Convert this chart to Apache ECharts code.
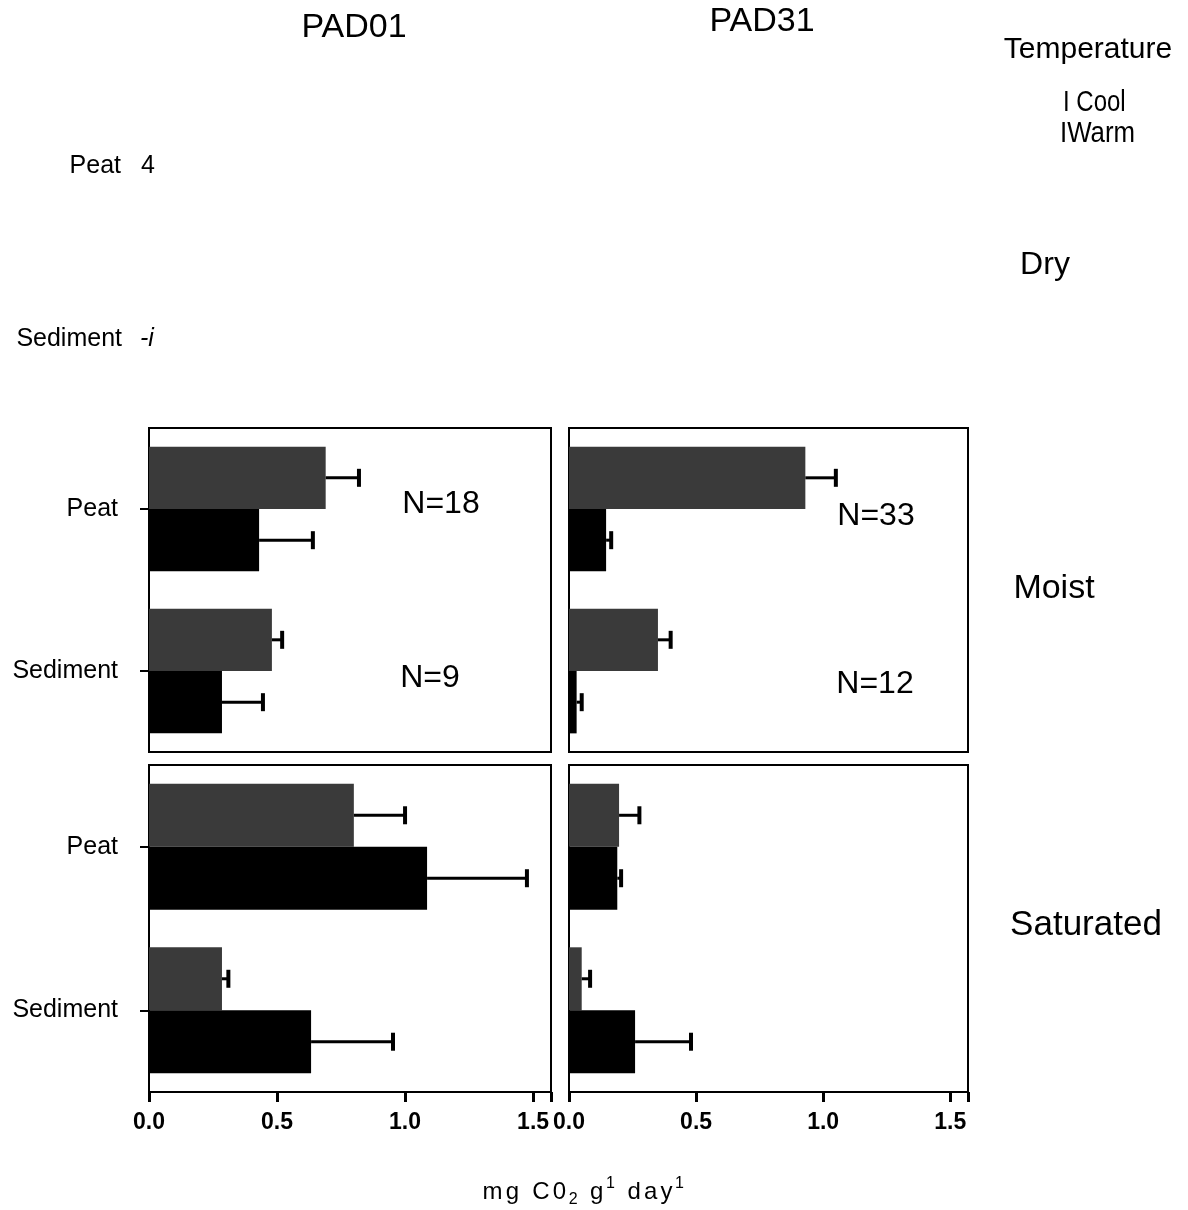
<!DOCTYPE html>
<html><head><meta charset="utf-8">
<script src="https://cdn.jsdelivr.net/npm/echarts@6/dist/echarts.min.js"></script>
<style>html,body{margin:0;padding:0;background:#fff}#c{width:1188px;height:1210px}</style>
</head><body><div id="c"></div>
<script>
// ---- data ----
const categories = ['Peat', 'Sediment'];
const sites = ['PAD01', 'PAD31'];
const moistureLabels = ['Dry', 'Moist', 'Saturated'];
const temperatures = ['Cool', 'Warm'];
const tickValues = [0, 0.5, 1.0, 1.5];
const nLabelsPAD01 = ['N=18', 'N=9'];
const nLabelsPAD31 = ['N=33', 'N=12'];
const axisTitleParts = [['mg C0', 'n'], ['2', 'sub'], [' g', 'n'], ['1', 'sup'], [' day', 'n'], ['1', 'sup']];

// means [Peat, Sediment]
const pad01MoistCool = [0.69, 0.48];
const pad01MoistWarm = [0.43, 0.285];
const pad31MoistCool = [0.93, 0.35];
const pad31MoistWarm = [0.146, 0.03];
const pad01SatCool = [0.80, 0.285];
const pad01SatWarm = [1.086, 0.633];
const pad31SatCool = [0.197, 0.05];
const pad31SatWarm = [0.19, 0.26];
// standard errors [Peat, Sediment]
const pad01MoistCoolErr = [0.13, 0.04];
const pad01MoistWarmErr = [0.21, 0.16];
const pad31MoistCoolErr = [0.12, 0.05];
const pad31MoistWarmErr = [0.02, 0.02];
const pad01SatCoolErr = [0.20, 0.025];
const pad01SatWarmErr = [0.39, 0.32];
const pad31SatCoolErr = [0.08, 0.033];
const pad31SatWarmErr = [0.015, 0.22];

const FONT = 'Liberation Sans, Arial, Helvetica, sans-serif';
const COOL_COLOR = '#3a3a3a';
const WARM_COLOR = '#000000';
const GAP = 0.23;

const panels = [
  {cool: pad01MoistCool, warm: pad01MoistWarm, coolErr: pad01MoistCoolErr, warmErr: pad01MoistWarmErr, left: 149, top: 428, width: 402, height: 324, yLabels: true, xLabels: false},
  {cool: pad31MoistCool, warm: pad31MoistWarm, coolErr: pad31MoistCoolErr, warmErr: pad31MoistWarmErr, left: 569, top: 428, width: 399, height: 324, yLabels: false, xLabels: false},
  {cool: pad01SatCool, warm: pad01SatWarm, coolErr: pad01SatCoolErr, warmErr: pad01SatWarmErr, left: 149, top: 765, width: 402, height: 327, yLabels: true, xLabels: true},
  {cool: pad31SatCool, warm: pad31SatWarm, coolErr: pad31SatCoolErr, warmErr: pad31SatWarmErr, left: 569, top: 765, width: 399, height: 327, yLabels: false, xLabels: true}
];

const grid = [], xAxis = [], yAxis = [], series = [];
panels.forEach((p, i) => {
  grid.push({left: p.left, top: p.top, width: p.width, height: p.height, show: true,
    borderColor: '#000', borderWidth: 2, backgroundColor: '#fff', containLabel: false});
  xAxis.push({type: 'value', gridIndex: i, min: 0, max: 1.57, interval: 0.5,
    splitLine: {show: false},
    axisLine: {show: true, lineStyle: {color: '#000', width: 2}},
    axisTick: {show: p.xLabels, length: 10, lineStyle: {color: '#000', width: 3}},
    axisLabel: {show: p.xLabels, margin: 19, color: '#000', fontSize: 23, fontWeight: 'bold', fontFamily: FONT,
      formatter: v => {
        const k = tickValues.findIndex(t => Math.abs(t - v) < 1e-6);
        return k >= 0 ? tickValues[k].toFixed(1) : '';
      }}
  });
  yAxis.push({type: 'category', gridIndex: i, data: categories, inverse: true,
    axisLine: {show: true, lineStyle: {color: '#000', width: 2}},
    axisTick: {show: p.yLabels, alignWithLabel: true, length: 9, lineStyle: {color: '#000', width: 2}},
    axisLabel: {show: p.yLabels, margin: 31, color: '#000', fontSize: 25, fontFamily: FONT}
  });
  [[p.cool, COOL_COLOR, 'Cool'], [p.warm, WARM_COLOR, 'Warm']].forEach(([vals, col, name]) => {
    series.push({type: 'bar', name, xAxisIndex: i, yAxisIndex: i, data: vals,
      barGap: '0%', barCategoryGap: (GAP * 100) + '%', itemStyle: {color: col}, silent: true});
  });
  [[p.cool, p.coolErr, -1], [p.warm, p.warmErr, 1]].forEach(([vals, errs, sgn]) => {
    series.push({type: 'custom', xAxisIndex: i, yAxisIndex: i, z: 5, silent: true,
      encode: {x: 1, y: 0},
      data: vals.map((v, k) => [k, v, errs[k]]),
      renderItem: (params, api) => {
        const c = api.value(0), m = api.value(1), e = api.value(2);
        const p0 = api.coord([m, c]);
        const p1 = api.coord([m + e, c]);
        const band = api.size([0, 1])[1];
        const bw = band * (1 - GAP) / 2;
        const yy = p0[1] + sgn * bw / 2;
        return {type: 'group', children: [
          {type: 'line', shape: {x1: p0[0], y1: yy, x2: p1[0], y2: yy}, style: {stroke: '#000', lineWidth: 3}},
          {type: 'line', shape: {x1: p1[0], y1: yy - 9, x2: p1[0], y2: yy + 9}, style: {stroke: '#000', lineWidth: 4}}
        ]};
      }
    });
  });
});

function txt(x, y, text, size, extra, props) {
  return Object.assign({type: 'text', x, y, style: Object.assign({text, fontSize: size, fontFamily: FONT, fill: '#000',
    textAlign: 'center', textVerticalAlign: 'middle'}, extra || {})}, props || {});
}

// axis title as rich text, one fragment per character for the wide letter spacing
let titleRich = '';
axisTitleParts.forEach(([s, kind]) => {
  for (const ch of s) titleRich += '{' + kind + '|' + (ch === ' ' ? '\u00a0' : ch) + '}';
});

const graphic = [
  txt(354, 28, sites[0], 34),
  txt(762, 22, sites[1], 34),
  txt(1088, 50, 'Temperature', 30),
  txt(1063, 103, 'I ' + temperatures[0], 30, {textAlign: 'left'}, {scaleX: 0.8}),
  txt(1060, 134, 'I' + temperatures[1], 30, {textAlign: 'left'}, {scaleX: 0.86}),
  txt(121, 166, categories[0], 25, {textAlign: 'right'}),
  txt(141, 166, '4', 25, {textAlign: 'left'}),
  txt(122, 339, categories[1], 25, {textAlign: 'right'}),
  txt(140, 339, '-i', 25, {textAlign: 'left', fontStyle: 'italic'}),
  txt(1045, 265, moistureLabels[0], 32),
  txt(1054, 589, moistureLabels[1], 34),
  txt(1086, 925, moistureLabels[2], 35),
  txt(441, 504, nLabelsPAD01[0], 32),
  txt(430, 678, nLabelsPAD01[1], 32),
  txt(876, 516, nLabelsPAD31[0], 32),
  txt(875, 684, nLabelsPAD31[1], 32),
  {type: 'text', x: 583, y: 1192, style: {
    text: titleRich,
    textAlign: 'center', textVerticalAlign: 'middle', fill: '#000',
    rich: {
      n: {fontSize: 24, fontFamily: FONT, lineHeight: 32, fill: '#000', padding: [0, 1.6]},
      sub: {fontSize: 16, fontFamily: FONT, lineHeight: 18, verticalAlign: 'bottom', fill: '#000', padding: [0, 1]},
      sup: {fontSize: 16, fontFamily: FONT, lineHeight: 18, verticalAlign: 'top', fill: '#000', padding: [0, 1]}
    }}}
];

const chart = echarts.init(document.getElementById('c'), null, {renderer: 'canvas'});
chart.setOption({animation: false, backgroundColor: '#fff', grid, xAxis, yAxis, series, graphic});
</script></body></html>
